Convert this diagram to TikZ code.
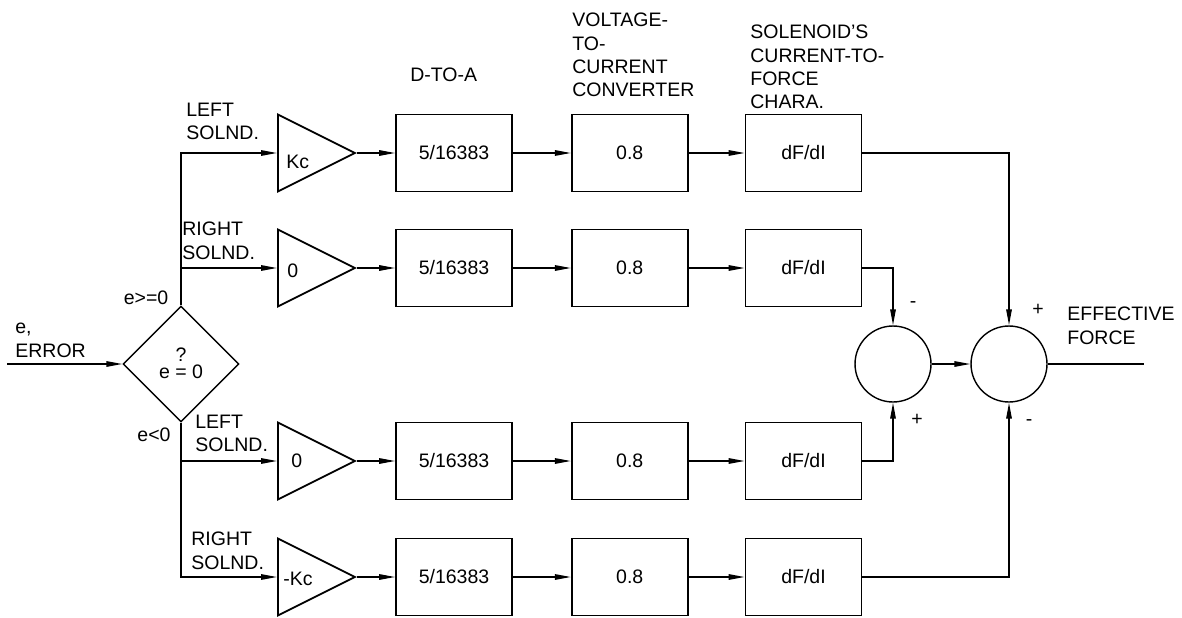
\documentclass[tikz,border=0pt]{standalone}
\usepackage{fontspec}
\setmainfont{Liberation Sans}
\usetikzlibrary{shapes.geometric,arrows.meta,positioning}
\newcommand{\plainfont}{\fontsize{11.1}{13.2}\selectfont}
\tikzset{
    % Gain blocks
    block/.style={
        rectangle,
        draw,
        line width=1pt,
        minimum width=2.32cm,
        minimum height=1.54cm,
        inner sep=0pt,
        font=\plainfont
    },
    amp/.style={
        isosceles triangle,
        isosceles triangle stretches,
        shape border rotate=0,
        draw,
        line width=1pt,
        minimum width=1.54cm,
        minimum height=1.54cm,
        inner sep=0pt
    },
    junction/.style={
        circle,
        draw,
        line width=0.8pt,
        minimum size=1.52cm,
        inner sep=0pt
    },
    decision/.style={
        diamond,
        draw,
        line width=0.8pt,
        minimum width=2.32cm,
        minimum height=2.32cm,
        aspect=1,
        inner sep=0pt
    },
    arrow/.style={
        -{Triangle[length=3.2mm,width=1.1mm]},
        line width=0.8pt
    },
    line/.style={
        line width=0.8pt
    },
    note/.style={
        align=left,
        inner sep=0pt,
        font=\plainfont
    }
}
\begin{document}
\begin{tikzpicture}[x=0.02cm, y=-0.02cm]
        \useasboundingbox (0,0) rectangle (1182,618);

        % Error test
        \coordinate (in) at (7,364);
        \node[decision] (test) at (181,364) {};
        \node[note] (testeq) at (181,372) {e = 0};
        \node[note] (testq) at (181,355) {?};
        \node[note, anchor=north west] (errtxt) at (15,323) {e,\\ERROR};
        \node[note] (gepos) at (146,298) {e>=0};
        \node[note] (ltneg) at (154,435) {e<0};

        % Row 1
        \node[amp, anchor=lower side] (ampA) at (277,153) {};
        \node[note, anchor=west, xshift=0.18cm, yshift=-0.18cm] (kA) at (ampA.lower side) {Kc};
        \node[block, right=0.76cm of ampA] (daA) {5/16383};
        \node[block, right=1.16cm of daA] (vcA) {0.8};
        \node[block, right=1.12cm of vcA] (cfA) {dF/dI};
        \node[note, anchor=north west] (solA) at (186,103) {LEFT\\SOLND.};

        % Row 2
        \node[amp, anchor=lower side] (ampB) at (277,268) {};
        \node[note, anchor=west, xshift=0.2cm, yshift=-0.06cm] (kB) at (ampB.lower side) {0};
        \node[block, right=0.76cm of ampB] (daB) {5/16383};
        \node[block, right=1.16cm of daB] (vcB) {0.8};
        \node[block, right=1.12cm of vcB] (cfB) {dF/dI};
        \node[note, anchor=north west] (solB) at (182,222) {RIGHT\\SOLND.};

        % Row 3
        \node[amp, anchor=lower side] (ampC) at (277,461) {};
        \node[note, anchor=west, xshift=0.28cm] (kC) at (ampC.lower side) {0};
        \node[block, right=0.76cm of ampC] (daC) {5/16383};
        \node[block, right=1.16cm of daC] (vcC) {0.8};
        \node[block, right=1.12cm of vcC] (cfC) {dF/dI};
        \node[note, anchor=north west] (solC) at (195,415) {LEFT\\SOLND.};

        % Row 4
        \node[amp, anchor=lower side] (ampD) at (277,577) {};
        \node[note, anchor=west, xshift=0.12cm, yshift=-0.04cm] (kD) at (ampD.lower side) {-Kc};
        \node[block, right=0.76cm of ampD] (daD) {5/16383};
        \node[block, right=1.16cm of daD] (vcD) {0.8};
        \node[block, right=1.12cm of vcD] (cfD) {dF/dI};
        \node[note, anchor=north west] (solD) at (191,532) {RIGHT\\SOLND.};

        % Column headings
        \node[note, anchor=north west] (hdA) at (410,68) {D-TO-A};
        \node[note, anchor=north west] (hdB) at (572,13) {VOLTAGE-\\TO-\\CURRENT\\CONVERTER};
        \node[note, anchor=north west] (hdC) at (750,25) {SOLENOID'S\\CURRENT-TO-\\FORCE\\CHARA.};

        % Summing junctions
        \node[junction] (sumA) at (893,364) {};
        \node[junction] (sumB) at (1009,364) {};
        \coordinate (out) at (1144,364);
        \node[note] (sgA1) at (913,305) {-};
        \node[note] (sgA2) at (917,420) {+};
        \node[note] (sgB1) at (1038,310) {+};
        \node[note] (sgB2) at (1029,423) {-};
        \node[note, anchor=north west] (force) at (1067,307) {EFFECTIVE\\FORCE};

        % Arrows
        \draw[arrow] (in) -- (test.west);
        \draw[arrow] (test.north) |- (ampA.lower side);
        \draw[arrow] (test.north) |- (ampB.lower side);
        \draw[arrow] (test.south) |- (ampC.lower side);
        \draw[arrow] (test.south) |- (ampD.lower side);

        \draw[arrow] (ampA.apex) -- (daA.west);
        \draw[arrow] (daA) -- (vcA);
        \draw[arrow] (vcA) -- (cfA);
        \draw[arrow] (ampB.apex) -- (daB.west);
        \draw[arrow] (daB) -- (vcB);
        \draw[arrow] (vcB) -- (cfB);
        \draw[arrow] (ampC.apex) -- (daC.west);
        \draw[arrow] (daC) -- (vcC);
        \draw[arrow] (vcC) -- (cfC);
        \draw[arrow] (ampD.apex) -- (daD.west);
        \draw[arrow] (daD) -- (vcD);
        \draw[arrow] (vcD) -- (cfD);

        \draw[arrow] (cfA.east) -| (sumB.north);
        \draw[arrow] (cfB.east) -| (sumA.north);
        \draw[arrow] (cfC.east) -| (sumA.south);
        \draw[arrow] (cfD.east) -| (sumB.south);
        \draw[arrow] (sumA) -- (sumB);
        \draw[line] (sumB.east) -- (out);
    \end{tikzpicture}
\end{document}
